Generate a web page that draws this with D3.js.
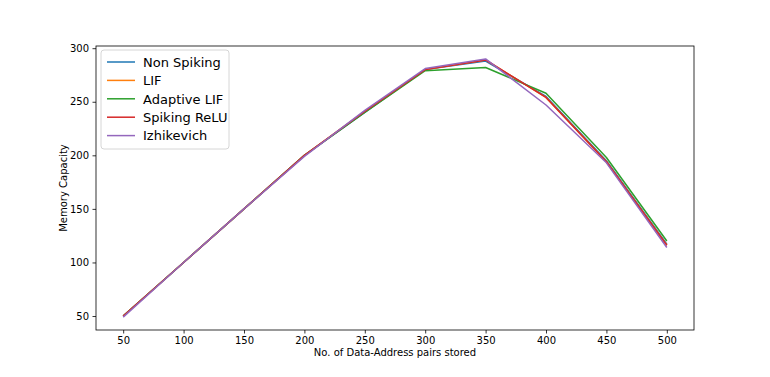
<!DOCTYPE html>
<html><head><meta charset="utf-8">
<script src="https://cdn.jsdelivr.net/npm/d3@7"></script>
<style>body{margin:0;background:#fff;} svg{display:block;font-family:"DejaVu Sans",sans-serif;}</style>
</head><body>
<svg id="chart" width="770" height="377"></svg>
<script>
const categories = [50, 100, 150, 200, 250, 300, 350, 400, 450, 500];
const nonSpiking  = [50, 100, 150, 200, 240, 280, 288, 255, 195, 117];
const lif         = [50, 100, 150, 200, 241, 280, 289, 254, 194, 116];
const adaptiveLif = [50, 100, 150, 200, 240, 279, 282, 258, 198, 120];
const spikingRelu = [50, 100, 150, 200, 241, 280, 289, 254, 194, 116];
const izhikevich  = [49, 100, 150, 199, 242, 281, 290, 247, 193, 114];
const seriesNames = ["Non Spiking", "LIF", "Adaptive LIF", "Spiking ReLU", "Izhikevich"];
const seriesColors = ["#1f77b4", "#ff7f0e", "#2ca02c", "#d62728", "#9467bd"];
const xTicks = [50, 100, 150, 200, 250, 300, 350, 400, 450, 500];
const yTicks = [50, 100, 150, 200, 250, 300];

const allSeries = [nonSpiking, lif, adaptiveLif, spikingRelu, izhikevich];
const svg = d3.select("#chart");
const L = 96, R = 694, T = 46, B = 330;

const x = d3.scaleLinear().domain([27.5, 522.5]).range([L, R]);
const allVals = allSeries.flat();
const ymin = d3.min(allVals), ymax = d3.max(allVals), pad = (ymax - ymin) * 0.05;
const y = d3.scaleLinear().domain([ymin - pad, ymax + pad]).range([B, T]);

const xAxis = svg.append("g").attr("transform", `translate(0,${B})`)
  .call(d3.axisBottom(x).tickValues(xTicks).tickSize(3.5).tickPadding(3.5));
const yAxis = svg.append("g").attr("transform", `translate(${L},0)`)
  .call(d3.axisLeft(y).tickValues(yTicks).tickSize(3.5).tickPadding(3.5));
[xAxis, yAxis].forEach(a => {
  a.select(".domain").remove();
  a.selectAll("text").attr("font-size", 10).attr("fill", "#000").attr("font-family", "DejaVu Sans");
  a.selectAll("line").attr("stroke", "#000").attr("stroke-width", 0.8);
});

const line = d3.line().x((d, i) => x(categories[i])).y(d => y(d));
allSeries.forEach((s, k) => {
  svg.append("path").datum(s).attr("d", line).attr("fill", "none")
    .attr("stroke", seriesColors[k]).attr("stroke-width", 1.5).attr("stroke-linejoin", "round");
});

svg.append("rect").attr("x", L).attr("y", T).attr("width", R - L).attr("height", B - T)
  .attr("fill", "none").attr("stroke", "#000").attr("stroke-width", 0.8);

svg.append("text").attr("x", (L + R) / 2).attr("y", 356).attr("text-anchor", "middle")
  .attr("font-size", 10).text("No. of Data-Address pairs stored");
svg.append("text").attr("transform", `translate(67,${(T + B) / 2}) rotate(-90)`)
  .attr("text-anchor", "middle").attr("font-size", 10).text("Memory Capacity");

const lg = svg.append("g");
lg.append("rect").attr("x", 101).attr("y", 50).attr("width", 128).attr("height", 99).attr("rx", 3)
  .attr("fill", "#fff").attr("fill-opacity", 0.8).attr("stroke", "#ccc").attr("stroke-width", 0.8);
seriesNames.forEach((n, k) => {
  const yy = 62 + k * 18.4;
  lg.append("line").attr("x1", 107).attr("x2", 135).attr("y1", yy).attr("y2", yy)
    .attr("stroke", seriesColors[k]).attr("stroke-width", 1.5);
  lg.append("text").attr("x", 143).attr("y", yy + 4.7).attr("font-size", 13).text(n);
});
</script>
</body></html>
